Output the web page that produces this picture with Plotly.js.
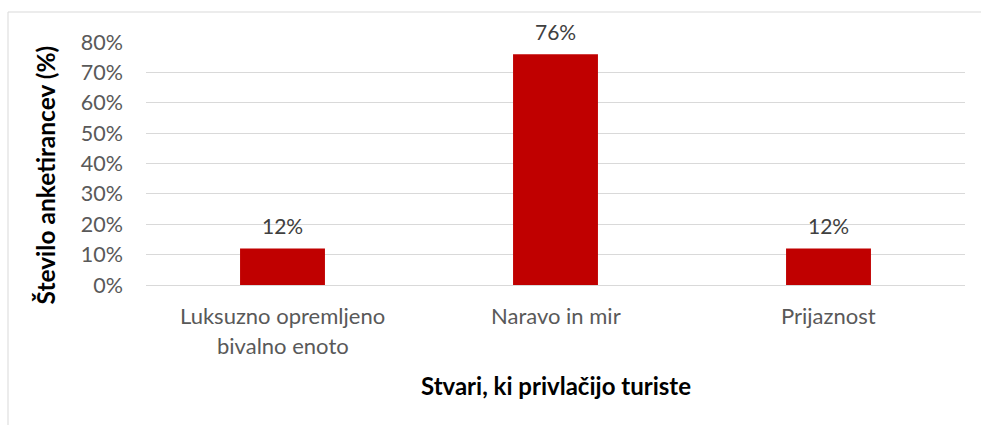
<!DOCTYPE html>
<html>
<head>
<meta charset="utf-8">
<script src="https://cdn.plot.ly/plotly-3.0.1.min.js"></script>
<style>
html,body{margin:0;padding:0;background:#fff;}
#chart{width:981px;height:425px;}
</style>
</head>
<body>
<div id="chart"></div>
<script>
const categories = ["Luksuzno opremljeno bivalno enoto", "Naravo in mir", "Prijaznost"];
const categoryLines = [["Luksuzno opremljeno", "bivalno enoto"], ["Naravo in mir"], ["Prijaznost"]];
const shares = [0.12, 0.76, 0.12];
const valueLabels = ["12%", "76%", "12%"];
const yTitle = "Število anketirancev (%)";
const xTitle = "Stvari, ki privlačijo turiste";

const FONT = "Lato, 'Open Sans', sans-serif";

const annotations = [];
categoryLines.forEach((lines, i) => {
  lines.forEach((ln, j) => {
    annotations.push({
      x: categories[i], y: 0, xref: 'x', yref: 'paper',
      text: ln, showarrow: false, xanchor: 'center', yanchor: 'middle',
      yshift: -30 - 30 * j,
      font: {family: FONT, size: 22, color: '#595959'}
    });
  });
});
shares.forEach((v, i) => {
  annotations.push({
    x: categories[i], y: v, xref: 'x', yref: 'y',
    text: valueLabels[i], showarrow: false, xanchor: 'center', yanchor: 'middle',
    yshift: 23,
    font: {family: FONT, size: 21, color: '#404040'}
  });
});
annotations.push({
  x: 0, y: 0.5, xref: 'paper', yref: 'paper', xanchor: 'center', yanchor: 'middle',
  xshift: -101, yshift: -12, textangle: -90, showarrow: false,
  text: '<b>' + yTitle + '</b>',
  font: {family: FONT, size: 24.5, color: '#000000'}
});
annotations.push({
  x: 0.5, y: 0, xref: 'paper', yref: 'paper', xanchor: 'center', yanchor: 'middle',
  yshift: -100, showarrow: false,
  text: '<b>' + xTitle + '</b>',
  font: {family: FONT, size: 24, color: '#000000'}
});

const trace = {
  type: 'bar', x: categories, y: shares,
  marker: {color: '#c00000'},
  hoverinfo: 'none'
};

const layout = {
  width: 981, height: 425,
  margin: {l: 146, r: 16, t: 42, b: 140, pad: 0},
  paper_bgcolor: '#ffffff', plot_bgcolor: '#ffffff',
  bargap: 0.689,
  showlegend: false,
  xaxis: {
    type: 'category', range: [-0.5, 2.5], showticklabels: false,
    showgrid: false, zeroline: false, showline: false, ticks: ''
  },
  yaxis: {
    range: [0, 0.8], dtick: 0.1, tick0: 0, tickformat: '.0%',
    showgrid: true, gridcolor: '#d9d9d9', gridwidth: 1,
    zeroline: true, zerolinecolor: '#d9d9d9', zerolinewidth: 1,
    showline: false, ticks: '', ticklabelstandoff: 22,
    tickfont: {family: FONT, size: 21.5, color: '#595959'}
  },
  annotations: annotations,
  shapes: [
    {type: 'line', xref: 'paper', yref: 'paper', x0: -138/819, x1: 1 + 16/819, y0: 1 + 30/243, y1: 1 + 30/243,
     line: {color: '#d9d9d9', width: 1}},
    {type: 'line', xref: 'paper', yref: 'paper', x0: -138/819, x1: -138/819, y0: 1 + 30/243, y1: -140/243,
     line: {color: '#d9d9d9', width: 1}}
  ]
};

Plotly.newPlot('chart', [trace], layout, {staticPlot: true, displayModeBar: false});
</script>
</body>
</html>
